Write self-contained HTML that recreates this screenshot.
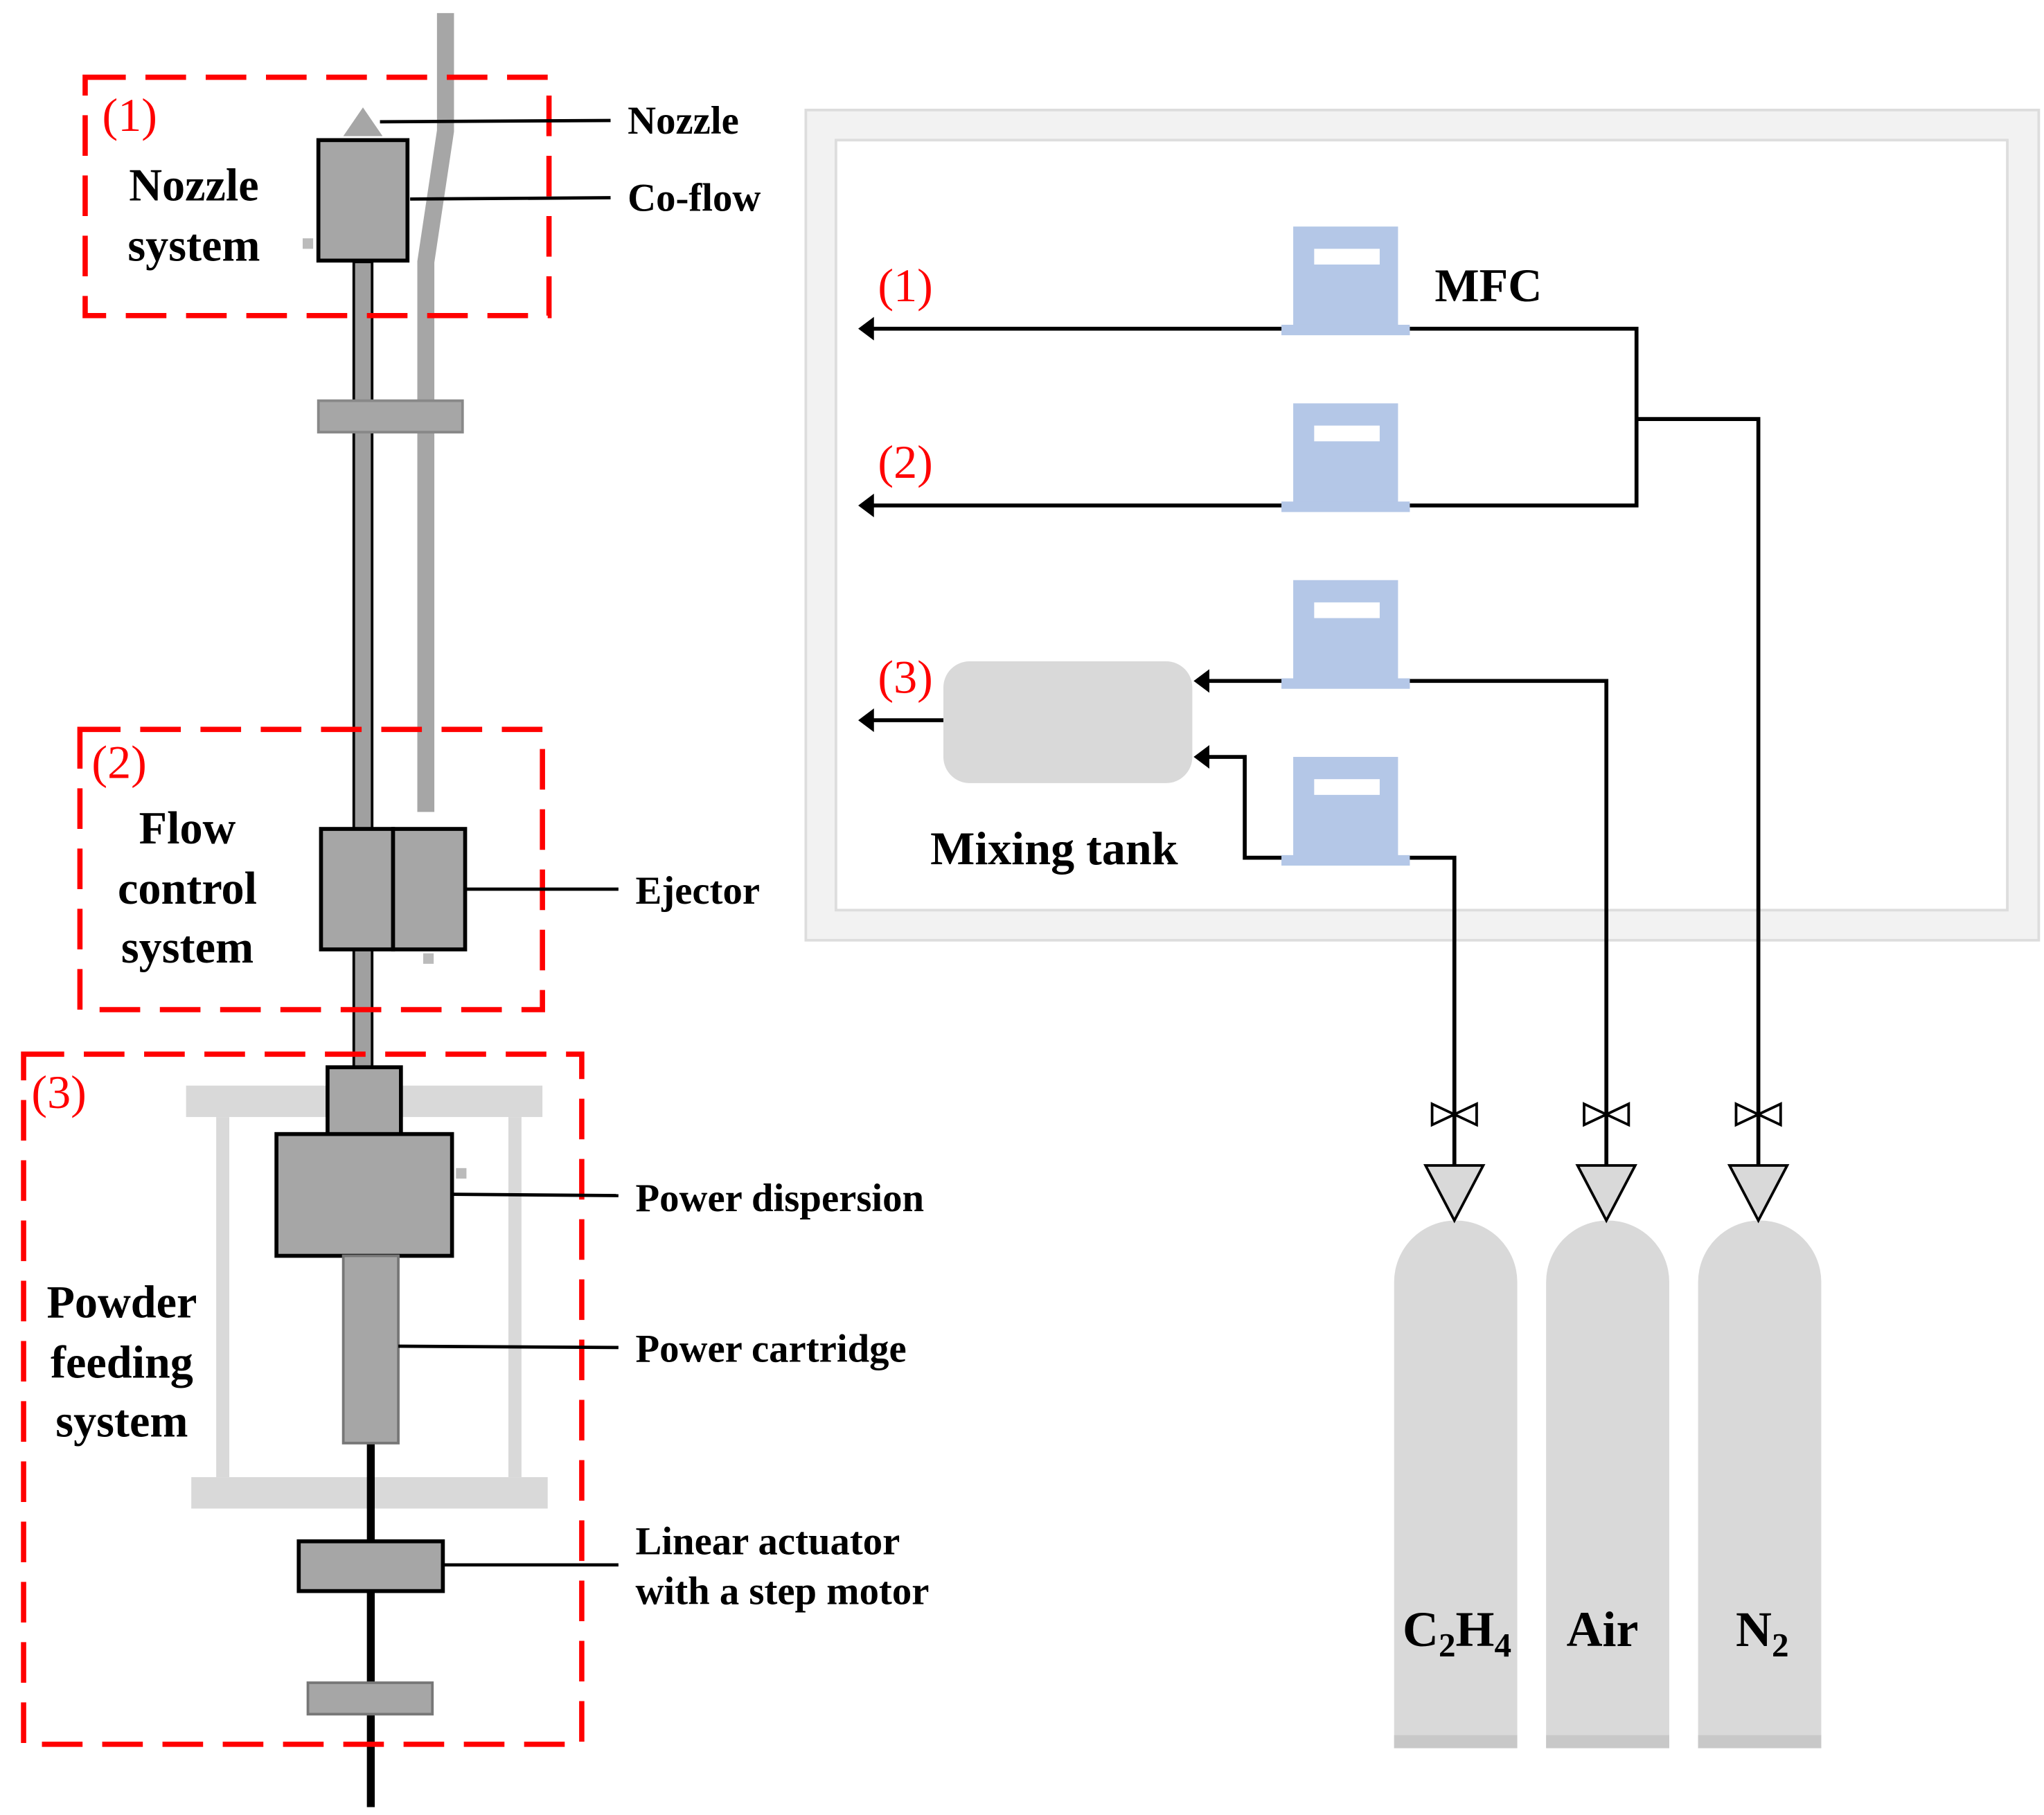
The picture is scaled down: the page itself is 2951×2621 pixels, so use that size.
<!DOCTYPE html>
<html><head><meta charset="utf-8"><style>html,body{margin:0;padding:0;background:#fff}svg{display:block}</style></head>
<body>
<svg width="2951" height="2621" viewBox="0 0 1560 1386" preserveAspectRatio="none" xmlns="http://www.w3.org/2000/svg" font-family="Liberation Serif, serif">
<rect width="1560" height="1386" fill="#fff"/>
<polyline points="340,10 340,100 325,200 325,620" fill="none" stroke="#a6a6a6" stroke-width="13"/>
<rect x="270" y="200" width="14" height="615" fill="#a0a0a0" stroke="#000" stroke-width="2"/>
<polygon points="262,104 277,82 292,104" fill="#a6a6a6"/>
<rect x="243" y="107" width="68" height="92" fill="#a6a6a6" stroke="#000" stroke-width="3"/>
<rect x="231" y="182" width="8" height="8" fill="#bbb"/>
<rect x="243" y="306" width="110" height="24" fill="#a6a6a6" stroke="#888" stroke-width="2"/>
<rect x="245" y="633" width="55" height="92" fill="#a6a6a6" stroke="#000" stroke-width="3"/>
<rect x="300" y="633" width="55" height="92" fill="#a6a6a6" stroke="#000" stroke-width="3"/>
<rect x="323" y="728" width="8" height="8" fill="#bbb"/>
<rect x="142" y="829" width="272" height="24" fill="#d9d9d9"/>
<rect x="165" y="853" width="10" height="275" fill="#d9d9d9"/>
<rect x="388" y="853" width="10" height="275" fill="#d9d9d9"/>
<rect x="146" y="1128" width="272" height="24" fill="#d9d9d9"/>
<line x1="283" y1="1100" x2="283" y2="1380" stroke="#000" stroke-width="6"/>
<rect x="250" y="815" width="56" height="52" fill="#a6a6a6" stroke="#000" stroke-width="3"/>
<rect x="211" y="866" width="134" height="93" fill="#a6a6a6" stroke="#000" stroke-width="3"/>
<rect x="348" y="892" width="8" height="8" fill="#bbb"/>
<rect x="262" y="959" width="42" height="143" fill="#a6a6a6" stroke="#777" stroke-width="2"/>
<rect x="228" y="1177" width="110" height="38" fill="#a6a6a6" stroke="#000" stroke-width="3"/>
<rect x="235" y="1285" width="95" height="24" fill="#a6a6a6" stroke="#777" stroke-width="2"/>
<g fill="none" stroke="#f00" stroke-width="4" stroke-dasharray="31 15">
<rect x="65" y="59" width="354" height="182"/>
<rect x="61" y="557" width="353" height="214"/>
<rect x="18" y="805" width="426" height="527"/>
</g>
<g fill="#f00" font-size="36">
<text x="78" y="100">(1)</text>
<text x="70" y="594">(2)</text>
<text x="24" y="846">(3)</text>
</g>
<g font-size="35" font-weight="bold" text-anchor="middle">
<text x="148" y="153">Nozzle</text>
<text x="148" y="199">system</text>
<text x="143" y="644">Flow</text>
<text x="143" y="690">control</text>
<text x="143" y="735">system</text>
<text x="93" y="1006">Powder</text>
<text x="93" y="1052">feeding</text>
<text x="93" y="1097">system</text>
</g>
<g stroke="#000" stroke-width="2.5">
<line x1="290" y1="93" x2="466" y2="92"/>
<line x1="313" y1="152" x2="466" y2="151"/>
<line x1="355" y1="679" x2="472" y2="679"/>
<line x1="345" y1="912" x2="472" y2="913"/>
<line x1="304" y1="1028" x2="472" y2="1029"/>
<line x1="338" y1="1195" x2="472" y2="1195"/>
</g>
<g font-size="30" font-weight="bold">
<text x="479" y="102">Nozzle</text>
<text x="479" y="161">Co-flow</text>
<text x="485" y="690">Ejector</text>
<text x="485" y="925">Power dispersion</text>
<text x="485" y="1040">Power cartridge</text>
<text x="485" y="1187">Linear actuator</text>
<text x="485" y="1225">with a step motor</text>
</g>
<rect x="615" y="84" width="941" height="634" fill="#f2f2f2" stroke="#ddd" stroke-width="2"/>
<rect x="638" y="107" width="894" height="588" fill="#fff" stroke="#ddd" stroke-width="2"/>
<g fill="#b4c7e7">
<rect x="987" y="173" width="80" height="77"/><rect x="978" y="248" width="98" height="8"/>
<rect x="987" y="308" width="80" height="77"/><rect x="978" y="383" width="98" height="8"/>
<rect x="987" y="443" width="80" height="77"/><rect x="978" y="518" width="98" height="8"/>
<rect x="987" y="578" width="80" height="77"/><rect x="978" y="653" width="98" height="8"/>
</g>
<g fill="#fff">
<rect x="1003" y="190" width="50" height="12"/>
<rect x="1003" y="325" width="50" height="12"/>
<rect x="1003" y="460" width="50" height="12"/>
<rect x="1003" y="595" width="50" height="12"/>
</g>
<rect x="720" y="505" width="190" height="93" rx="20" fill="#d9d9d9"/>
<g fill="none" stroke="#000" stroke-width="3">
<line x1="978" y1="251" x2="665" y2="251"/>
<line x1="978" y1="386" x2="665" y2="386"/>
<polyline points="1076,251 1249,251 1249,386 1076,386"/>
<polyline points="1249,320 1342,320 1342,930"/>
<line x1="978" y1="520" x2="920" y2="520"/>
<polyline points="1076,520 1226,520 1226,930"/>
<polyline points="978,655 950,655 950,578 920,578"/>
<polyline points="1076,655 1110,655 1110,930"/>
<line x1="720" y1="550" x2="665" y2="550"/>
</g>
<g fill="#000">
<polygon points="655,251 667,242 667,260"/>
<polygon points="655,386 667,377 667,395"/>
<polygon points="655,550 667,541 667,559"/>
<polygon points="911,520 923,511 923,529"/>
<polygon points="911,578 923,569 923,587"/>
</g>
<g fill="#f00" font-size="36">
<text x="670" y="230">(1)</text>
<text x="670" y="365">(2)</text>
<text x="670" y="529">(3)</text>
</g>
<g font-size="36" font-weight="bold">
<text x="1095" y="230">MFC</text>
<text x="710" y="660">Mixing tank</text>
</g>
<g fill="none" stroke="#000" stroke-width="2">
<polygon points="1093,843 1127,859 1127,843 1093,859"/>
<polygon points="1209,843 1243,859 1243,843 1209,859"/>
<polygon points="1325,843 1359,859 1359,843 1325,859"/>
</g>
<g fill="#d9d9d9">
<path d="M1064,979 A47,47 0 0 1 1158,979 L1158,1335 L1064,1335 Z"/>
<path d="M1180,979 A47,47 0 0 1 1274,979 L1274,1335 L1180,1335 Z"/>
<path d="M1296,979 A47,47 0 0 1 1390,979 L1390,1335 L1296,1335 Z"/>
</g>
<g fill="#c8c8c8">
<rect x="1064" y="1325" width="94" height="10"/><rect x="1180" y="1325" width="94" height="10"/><rect x="1296" y="1325" width="94" height="10"/>
</g>
<g fill="#d9d9d9" stroke="#000" stroke-width="2">
<polygon points="1088,890 1132,890 1110,932"/>
<polygon points="1204,890 1248,890 1226,932"/>
<polygon points="1320,890 1364,890 1342,932"/>
</g>
<g font-size="38" font-weight="bold" text-anchor="middle">
<text x="1112" y="1257">C<tspan font-size="26" dy="8">2</tspan><tspan dy="-8">H</tspan><tspan font-size="26" dy="8">4</tspan></text>
<text x="1223" y="1257">Air</text>
<text x="1345" y="1257">N<tspan font-size="26" dy="8">2</tspan></text>
</g>
</svg>
</body></html>
